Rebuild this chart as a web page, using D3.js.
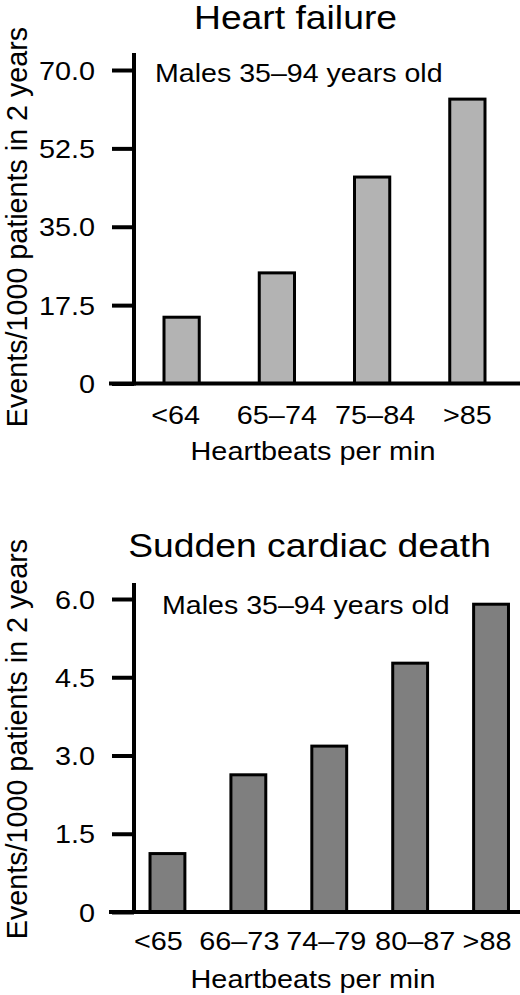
<!DOCTYPE html>
<html><head><meta charset="utf-8">
<script src="https://cdn.jsdelivr.net/npm/d3@7"></script>
<style>
html,body{margin:0;padding:0;background:#fff;}
text{font-family:"Liberation Sans",Arial,Helvetica,sans-serif;fill:#000;}
</style></head>
<body><svg id="chart" width="520" height="995"></svg>
<script>
// ---- data ----
const hfCategories = ["<64", "65–74", "75–84", ">85"];
const hfValues = [14.8, 24.7, 46.1, 63.5];
const hfTicks = [0, 17.5, 35.0, 52.5, 70.0];
const hfTickLabels = ["0", "17.5", "35.0", "52.5", "70.0"];

const scdCategories = ["<65", "66–73", "74–79", "80–87", ">88"];
const scdValues = [1.12, 2.63, 3.18, 4.77, 5.90];
const scdTicks = [0, 1.5, 3.0, 4.5, 6.0];
const scdTickLabels = ["0", "1.5", "3.0", "4.5", "6.0"];

const titles = ["Heart failure", "Sudden cardiac death"];
const subtitle = "Males 35–94 years old";
const xTitle = "Heartbeats per min";
const yTitle = "Events/1000 patients in 2 years";

// ---- drawing ----
const svg = d3.select("#chart");
const SX = 1.13; // horizontal stretch of the text

function label(g, x, y, str, size, anchor) {
  g.append("g").attr("transform", `translate(${x},${y}) scale(${SX},1)`)
    .append("text").attr("text-anchor", anchor).attr("font-size", size).text(str);
}

function panel(cfg) {
  const g = svg.append("g");
  const y = d3.scaleLinear().domain([0, cfg.ticks[cfg.ticks.length - 1]]).range(cfg.yRange);
  const x = d3.scaleBand().domain(cfg.categories).range(cfg.xRange)
    .paddingInner(cfg.pIn).paddingOuter(cfg.pOut);

  // bars
  g.selectAll("rect.bar").data(cfg.values).join("rect")
    .attr("class", "bar")
    .attr("x", (d, i) => x(cfg.categories[i]))
    .attr("width", x.bandwidth())
    .attr("y", d => y(d))
    .attr("height", d => y(0) - y(d))
    .attr("fill", cfg.fill)
    .attr("stroke", "#000")
    .attr("stroke-width", 3);

  // y axis
  const axis = d3.axisLeft(y).tickValues(cfg.ticks)
    .tickFormat((d, i) => cfg.tickLabels[i]).tickSize(22).tickPadding(0);
  const ag = g.append("g").attr("transform", `translate(134,0)`).call(axis);
  ag.select(".domain").remove();
  ag.selectAll(".tick line").attr("stroke", "#000").attr("stroke-width", 4);
  ag.selectAll(".tick text")
    .attr("font-family", null).attr("font-size", 25.5)
    .attr("fill", "#000")
    .attr("x", -39 / SX).attr("dy", "0.36em")
    .attr("transform", `scale(${SX},1)`);

  // axis lines
  g.append("line").attr("x1", 134).attr("x2", 134)
    .attr("y1", y(0) + 2).attr("y2", y.range()[1] - cfg.axisOver)
    .attr("stroke", "#000").attr("stroke-width", 4);
  g.append("line").attr("x1", 109).attr("x2", 520)
    .attr("y1", y(0)).attr("y2", y(0))
    .attr("stroke", "#000").attr("stroke-width", 4);

  // category labels
  cfg.categories.forEach((c, i) => {
    label(g, x(c) + x.bandwidth() / 2 + cfg.labelShift[i], cfg.catBase, c, 25.5, "middle");
  });

  // titles
  label(g, cfg.titleX, cfg.titleBase, cfg.title, 33, "middle");
  label(g, cfg.subX, cfg.subBase, subtitle, 25.3, "start");
  label(g, 313, cfg.xTitleBase, xTitle, 25.5, "middle");

  // y title
  g.append("text")
    .attr("transform", `translate(27,${cfg.yTitleY}) rotate(-90)`)
    .attr("text-anchor", "middle").attr("font-size", 28.7)
    .text(yTitle);
}

panel({
  categories: hfCategories, values: hfValues, ticks: hfTicks, tickLabels: hfTickLabels,
  yRange: [383.5, 70], xRange: [134, 515], pIn: 0.63, pOut: 0.315, axisOver: 17,
  fill: "#b3b3b3", catBase: 424, labelShift: [-6, 0, 3, 0],
  title: titles[0], titleX: 295.5, titleBase: 28.5,
  subX: 155, subBase: 82, xTitleBase: 460, yTitleY: 227
});

panel({
  categories: scdCategories, values: scdValues, ticks: scdTicks, tickLabels: scdTickLabels,
  yRange: [912, 599], xRange: [134, 524.5], pIn: 0.569, pOut: 0.198, axisOver: 16,
  fill: "#7f7f7f", catBase: 950, labelShift: [-9, -9, -3, 5, -4],
  title: titles[1], titleX: 309.5, titleBase: 557,
  subX: 162, subBase: 614, xTitleBase: 988, yTitleY: 739
});
</script></body></html>
